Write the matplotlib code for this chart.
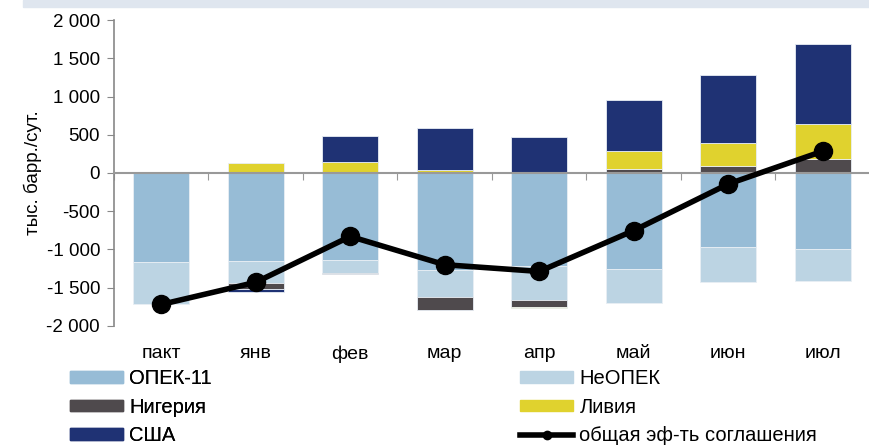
import matplotlib
matplotlib.use('Agg')
import matplotlib.pyplot as plt
import numpy as np
from matplotlib.ticker import FuncFormatter
from matplotlib.patches import Rectangle
from matplotlib.lines import Line2D

plt.rcParams['font.family'] = ['Liberation Sans', 'DejaVu Sans']
plt.rcParams['font.size'] = 13

# data, thous. bbl/day
months = ['пакт', 'янв', 'фев', 'мар', 'апр', 'май', 'июн', 'июл']
opec11 = [-1160, -1155, -1135, -1266, -1222, -1255, -963, -993]
non_opec = [-560, -288, -174, -357, -445, -448, -466, -414]
nigeria = [0, -75, -15, -165, -87, 50, 86, 187]
libya = [0, 135, 139, 39, -15, 232, 306, 453]
usa = [0, -35, 349, 550, 475, 668, 893, 1050]
total = [-1720, -1430, -830, -1200, -1288, -753, -144, 285]

series = [
    ('ОПЕК-11', opec11, '#97bcd6'),
    ('НеОПЕК', non_opec, '#bcd4e3'),
    ('Нигерия', nigeria, '#4f4a4d'),
    ('Ливия', libya, '#e0d22e'),
    ('США', usa, '#1f3274'),
]

fig = plt.figure(figsize=(8.7, 4.47), dpi=100)
ax = fig.add_axes([0.131, 0.271, 0.869, 0.684])

# light band at the very top
fig.patches.append(Rectangle((23 / 870, 1 - 7 / 447), 1, 7 / 447, transform=fig.transFigure,
                             color='#dfe6ef', zorder=0))

x = np.arange(len(months))
pos_base = np.zeros(len(months))
neg_base = np.zeros(len(months))
for name, vals, col in series:
    v = np.array(vals, dtype=float)
    bottom = np.where(v >= 0, pos_base, neg_base)
    ax.bar(x, v, 0.59, bottom=bottom, color=col, edgecolor='#e8eef4', linewidth=0.6, zorder=2)
    pos_base += np.where(v >= 0, v, 0)
    neg_base += np.where(v < 0, v, 0)

ax.plot(x, total, color='black', lw=4, marker='o', markersize=13, zorder=4)

ax.set_xlim(-0.5, len(months) - 0.5)
ax.set_ylim(-2000, 2000)
ax.set_yticks(np.arange(-2000, 2001, 500))
ax.yaxis.set_major_formatter(FuncFormatter(lambda v, p: '{:,.0f}'.format(v).replace(',', ' ')))
ax.tick_params(axis='y', direction='out', length=5, color='#888888', labelsize=13.5, pad=5)
ax.set_ylabel('тыс. барр./сут.', fontsize=13.5, labelpad=3)

for s in ['top', 'right']:
    ax.spines[s].set_visible(False)
ax.spines['left'].set_color('#888888')
ax.spines['left'].set_linewidth(1.2)
ax.spines['bottom'].set_position(('data', 0))
ax.spines['bottom'].set_color('#999999')
ax.spines['bottom'].set_linewidth(1.5)
ax.spines['bottom'].set_zorder(3)
ax.set_xticks(np.arange(len(months) + 1) - 0.5)
ax.set_xticklabels([])
ax.tick_params(axis='x', direction='out', length=5, color='#999999')
for i, m in enumerate(months):
    ax.annotate(m, (i, -2000), xytext=(0, -14), textcoords='offset points',
                ha='center', va='top', fontsize=14)

handles = [Rectangle((0, 0), 1, 1, color=c) for _, _, c in series]
handles.append(Line2D([], [], color='black', lw=4, marker='o', markersize=6))
labels = [n for n, _, _ in series] + ['общая эф-ть соглашения']

leg_kw = dict(loc='upper left', frameon=False, fontsize=14.5, handlelength=2.65,
              handleheight=0.5, handletextpad=0.3, labelspacing=0.48,
              borderpad=0, borderaxespad=0)
leg1 = fig.legend([handles[i] for i in (0, 2, 4)], [labels[i] for i in (0, 2, 4)],
                  bbox_to_anchor=(70 / 870, 1 - 369 / 447), **leg_kw)
fig.add_artist(leg1)
fig.legend([handles[i] for i in (1, 3, 5)], [labels[i] for i in (1, 3, 5)],
           bbox_to_anchor=(520 / 870, 1 - 369 / 447), **leg_kw)

fig.savefig('out.png', dpi=100)
